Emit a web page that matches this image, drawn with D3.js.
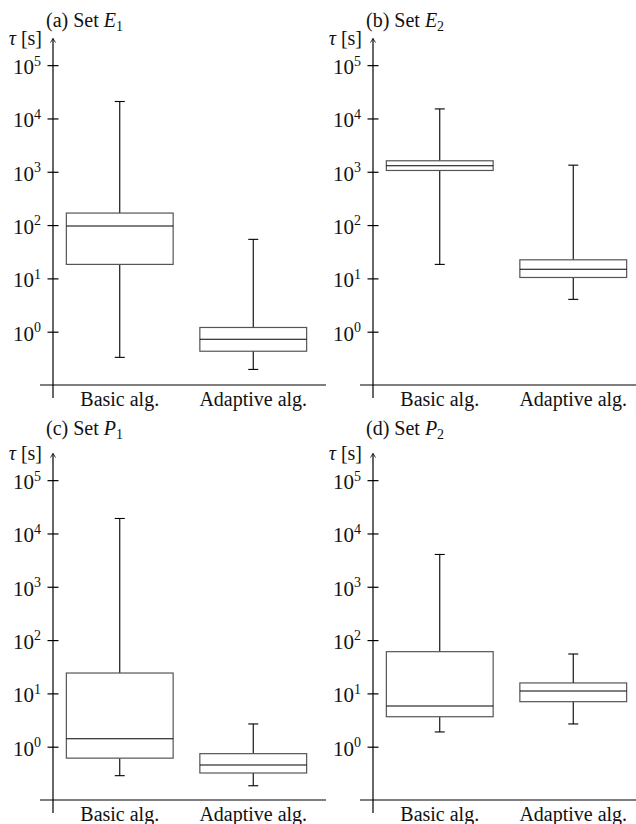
<!DOCTYPE html>
<html>
<head>
<meta charset="utf-8">
<script src="https://cdn.jsdelivr.net/npm/d3@7"></script>
<style>
  html, body { margin: 0; padding: 0; background: #fff; }
  svg { display: block; }
</style>
</head>
<body>
<script>
// ---------- data ----------
const categories = ["Basic alg.", "Adaptive alg."];
const panelLetters = ["(a)", "(b)", "(c)", "(d)"];
const setSymbols = ["E", "E", "P", "P"];
const setSubscripts = ["1", "2", "1", "2"];
const tickExponents = [0, 1, 2, 3, 4, 5];
const yAxisLabel = "τ";
const yAxisUnit = " [s]";

// [lower whisker, Q1, median, Q3, upper whisker]
const setE1Basic    = [0.33, 18.3, 96, 168, 20800];
const setE1Adaptive = [0.196, 0.43, 0.72, 1.2, 54];
const setE2Basic    = [18.3, 1058, 1296, 1608, 15100];
const setE2Adaptive = [4.04, 10.4, 14.8, 22.3, 1330];
const setP1Basic    = [0.286, 0.61, 1.41, 24.1, 19100];
const setP1Adaptive = [0.185, 0.321, 0.454, 0.74, 2.67];
const setP2Basic    = [1.89, 3.65, 5.8, 60.6, 4036];
const setP2Adaptive = [2.67, 6.99, 11.1, 15.7, 54.8];

const panelData = [
  [setE1Basic, setE1Adaptive],
  [setE2Basic, setE2Adaptive],
  [setP1Basic, setP1Adaptive],
  [setP2Basic, setP2Adaptive]
];

// ---------- layout ----------
const W = 636, H = 824;
const colOffset = 320, rowOffset = 415;
const titleY = [26.5, 435 - rowOffset];
const axisX = 53;
const baseY = 385, topY = 38.5;
const FONT = "'Liberation Serif', 'Times New Roman', serif";
const FS = 20;

const svg = d3.select("body").append("svg")
  .attr("width", W).attr("height", H)
  .attr("font-family", FONT)
  .attr("font-size", FS);

const y = d3.scaleLog()
  .domain([0.1, Math.pow(10, 5.5)])
  .range([baseY, topY]);

const x = d3.scaleBand()
  .domain(categories)
  .range([axisX, axisX + 267])
  .paddingInner(0).paddingOuter(0);

const boxW = x.bandwidth() * 0.8;
const capW = 10;

panelData.forEach((series, i) => {
  const col = i % 2, row = Math.floor(i / 2);
  const g = svg.append("g")
    .attr("transform", `translate(${col * colOffset},${row * rowOffset})`);

  // title
  const t = g.append("text")
    .attr("x", 46).attr("y", titleY[row])
    .attr("fill", "#111");
  t.append("tspan").text(panelLetters[i] + " Set ");
  t.append("tspan").attr("font-style", "italic").text(setSymbols[i]);
  t.append("tspan").attr("font-size", 14).attr("dy", 4).text(setSubscripts[i]);

  // y label
  const yl = g.append("text")
    .attr("x", axisX - 11).attr("y", 44.5)
    .attr("text-anchor", "end").attr("fill", "#111");
  yl.append("tspan").attr("font-style", "italic").text(yAxisLabel);
  yl.append("tspan").text(yAxisUnit);

  // y axis
  const yAxis = d3.axisLeft(y)
    .tickValues(tickExponents.map(e => Math.pow(10, e)))
    .tickSize(5.5)
    .tickFormat("");
  const ya = g.append("g")
    .attr("transform", `translate(${axisX},0)`)
    .call(yAxis)
    .attr("font-family", null).attr("font-size", null);
  ya.select(".domain").remove();
  ya.selectAll(".tick line")
    .attr("x1", 5.5).attr("x2", -5.5)
    .attr("stroke", "#000").attr("stroke-width", 1.2);
  ya.selectAll(".tick text")
    .attr("x", -12).attr("dy", "0.4em")
    .attr("font-size", 21)
    .attr("fill", "#111")
    .each(function(d) {
      const s = d3.select(this);
      s.text(null);
      s.append("tspan").text("10");
      s.append("tspan").attr("font-size", 14).attr("dy", -8.5)
        .text(Math.round(Math.log10(d)));
    });

  // y axis line + arrow
  g.append("line")
    .attr("x1", axisX).attr("x2", axisX)
    .attr("y1", baseY + 13).attr("y2", topY)
    .attr("stroke", "#000").attr("stroke-width", 1.2);
  g.append("path")
    .attr("d", `M${axisX - 2.5},${topY + 4} L${axisX},${topY} L${axisX + 2.5},${topY + 4}`)
    .attr("fill", "none").attr("stroke", "#000").attr("stroke-width", 0.8);

  // x axis
  g.append("line")
    .attr("x1", axisX - 13).attr("x2", axisX + 273)
    .attr("y1", baseY).attr("y2", baseY)
    .attr("stroke", "#000").attr("stroke-width", 1.2);
  const xa = g.append("g")
    .attr("transform", `translate(0,${baseY})`)
    .call(d3.axisBottom(x).tickSize(0).tickPadding(6.5))
    .attr("font-family", null).attr("font-size", null);
  xa.select(".domain").remove();
  xa.selectAll(".tick text").attr("fill", "#111");

  // boxes
  series.forEach((v, j) => {
    const cx = x(categories[j]) + x.bandwidth() / 2;
    const [lo, q1, med, q3, hi] = v;
    const b = g.append("g");
    // whiskers
    b.append("line").attr("x1", cx).attr("x2", cx)
      .attr("y1", y(hi)).attr("y2", y(q3))
      .attr("stroke", "#000").attr("stroke-width", 1.1);
    b.append("line").attr("x1", cx).attr("x2", cx)
      .attr("y1", y(q1)).attr("y2", y(lo))
      .attr("stroke", "#000").attr("stroke-width", 1.1);
    b.append("line").attr("x1", cx - capW / 2).attr("x2", cx + capW / 2)
      .attr("y1", y(hi)).attr("y2", y(hi))
      .attr("stroke", "#000").attr("stroke-width", 1.1);
    b.append("line").attr("x1", cx - capW / 2).attr("x2", cx + capW / 2)
      .attr("y1", y(lo)).attr("y2", y(lo))
      .attr("stroke", "#000").attr("stroke-width", 1.1);
    // box
    b.append("rect")
      .attr("x", cx - boxW / 2).attr("width", boxW)
      .attr("y", y(q3)).attr("height", y(q1) - y(q3))
      .attr("fill", "none").attr("stroke", "#555").attr("stroke-width", 1.2);
    // median
    b.append("line").attr("x1", cx - boxW / 2).attr("x2", cx + boxW / 2)
      .attr("y1", y(med)).attr("y2", y(med))
      .attr("stroke", "#000").attr("stroke-width", 1.1);
  });
});
</script>
</body>
</html>
